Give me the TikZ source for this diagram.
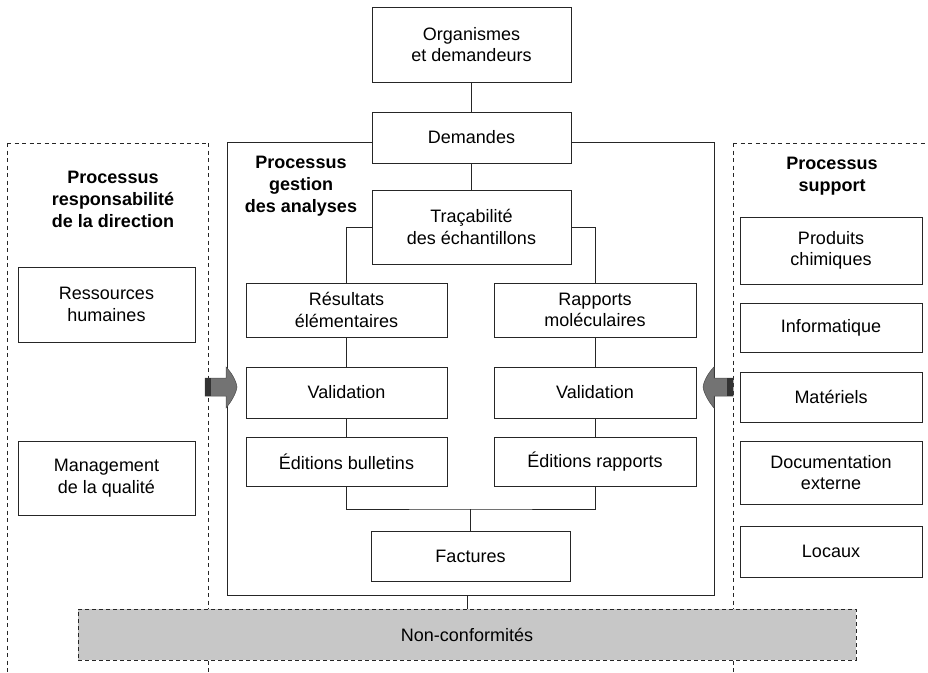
\documentclass[tikz,border=0pt]{standalone}
\usepackage{fontspec}
\setmainfont{Liberation Sans}
\begin{document}
\begin{tikzpicture}[x=1pt,y=-1pt,
  line/.style={draw=black!85,line width=1pt},
  box/.style={line,fill=white,align=center,inner sep=0pt,
    font=\fontsize{18}{21.5}\selectfont},
  title/.style={align=center,inner sep=0pt,
    font=\fontsize{18}{22}\selectfont\bfseries},
  frame/.style={draw=black!85,line width=1pt,dash pattern=on 4pt off 3.5pt},
  arrowbody/.style={fill=black!55,draw=black!70,line width=0.5pt},
  arrowtail/.style={fill=black!80}]
\useasboundingbox (0,0) rectangle (928,672);

% dashed side frames
\draw[frame] (7,143) -- (208,143);
\draw[frame] (7,143) -- (7,690);
\draw[frame] (208,143) -- (208,690);
\draw[frame] (733,143) -- (940,143);
\draw[frame] (733,143) -- (733,690);

% main process frame
\draw[line] (227,142) rectangle (714,595);

% non-conformity band
\node[box,fill=black!22,draw=black!85,dash pattern=on 4pt off 3pt,
  minimum width=778pt,minimum height=51pt] (nc) at (467,634.5) {Non-conformités};

% central chain
\node[box,minimum width=199pt,minimum height=75pt] (org) at (471.5,44.5) {Organismes\\et demandeurs};
\node[box,minimum width=199pt,minimum height=51pt] (dem) at (471.5,137.5) {Demandes};
\node[box,minimum width=199pt,minimum height=74pt] (trac) at (471.5,227) {Traçabilité\\des échantillons};
\node[box,minimum width=201pt,minimum height=54pt] (res) at (346.5,310) {Résultats\\élémentaires};
\node[box,minimum width=202pt,minimum height=54pt] (rap) at (595,310) {Rapports\\moléculaires};
\node[box,minimum width=201pt,minimum height=51pt] (val1) at (346.5,392.5) {Validation};
\node[box,minimum width=202pt,minimum height=51pt] (val2) at (595,392.5) {Validation};
\node[box,minimum width=201pt,minimum height=49pt] (ed1) at (346.5,461.5) {Éditions bulletins};
\node[box,minimum width=202pt,minimum height=49pt] (ed2) at (595,461.5) {Éditions rapports};
\node[box,minimum width=199pt,minimum height=50pt] (fac) at (470.5,556) {Factures};

% direction boxes
\node[title] (tl) at (113,199) {Processus\\responsabilité\\de la direction};
\node[box,minimum width=177pt,minimum height=75pt] (rh) at (106.5,304.5) {Ressources\\humaines};
\node[box,minimum width=177pt,minimum height=74pt] (mq) at (106.5,478) {Management\\de la qualité};

% support boxes
\node[title] (tr) at (832,176) {Processus\\support};
\node[box,minimum width=182pt,minimum height=67pt] (pc) at (831,250.5) {Produits\\chimiques};
\node[box,minimum width=182pt,minimum height=49pt] (inf) at (831,327.5) {Informatique};
\node[box,minimum width=182pt,minimum height=50pt] (mat) at (831,397) {Matériels};
\node[box,minimum width=182pt,minimum height=63pt] (doc) at (831,472.5) {Documentation\\externe};
\node[box,minimum width=182pt,minimum height=51pt] (loc) at (831,551.5) {Locaux};

% main process title
\node[title] (tm) at (301,186) {Processus\\gestion\\des analyses};

% connectors
\draw[line] (org) -- (dem);
\draw[line] (dem) -- (trac);
\draw[line] (trac.west) -| (res.north);
\draw[line] (trac.east) -| (rap.north);
\draw[line] (res) -- (val1);
\draw[line] (val1) -- (ed1);
\draw[line] (rap) -- (val2);
\draw[line] (val2) -- (ed2);
\coordinate (join) at (470.5,509);
\draw[line] (ed1.south) |- (join) -| (ed2.south);
\draw[line] (join) -- (fac.north);
\coordinate (mainbottom) at (467,595);
\draw[line] (mainbottom) -- (nc.north -| mainbottom);

% block arrows into the main frame
\coordinate (la) at (205,387);
\path[arrowbody] (205,378) -- (226,378) -- (226,367)
  .. controls (231,372) and (236,380) .. (237,387)
  .. controls (236,394) and (231,402) .. (226,408)
  -- (226,396) -- (205,396) -- cycle;
\fill[arrowtail] (205,378) rectangle (211,396);

\coordinate (ra) at (733,387);
\path[arrowbody] (733,378) -- (714,378) -- (714,367)
  .. controls (709,372) and (704,380) .. (703,387)
  .. controls (704,394) and (709,402) .. (714,408)
  -- (714,396) -- (733,396) -- cycle;
\fill[arrowtail] (727,378) rectangle (733,396);
\end{tikzpicture}
\end{document}
